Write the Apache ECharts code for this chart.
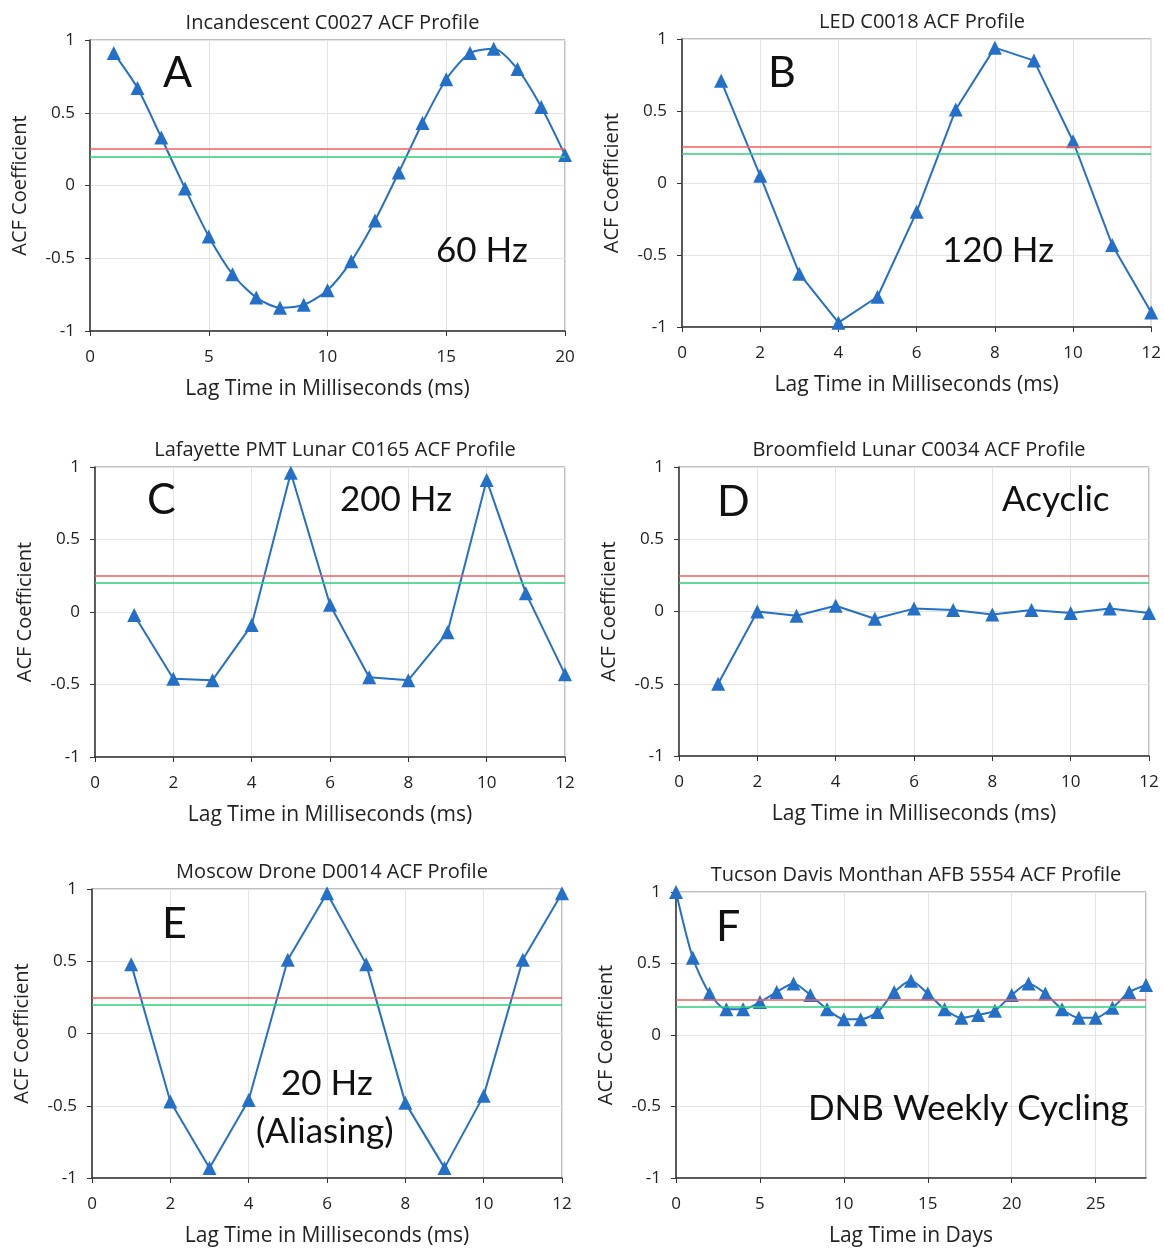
<!DOCTYPE html>
<html>
<head>
<meta charset="utf-8">
<script src="https://cdn.jsdelivr.net/npm/echarts@6/dist/echarts.min.js"></script>
<style>
  html, body { margin: 0; padding: 0; background: #fff; }
  #main { width: 1164px; height: 1248px; }
</style>
</head>
<body>
<div id="main"></div>
<script>
var myChart = echarts.init(document.getElementById('main'));

// data
var lagA = [1,2,3,4,5,6,7,8,9,10,11,12,13,14,15,16,17,18,19,20];
var acfA = [0.91,0.67,0.33,-0.02,-0.35,-0.61,-0.77,-0.84,-0.82,-0.72,-0.52,-0.24,0.09,0.43,0.73,0.91,0.94,0.80,0.54,0.21];
var lag12 = [1,2,3,4,5,6,7,8,9,10,11,12];
var acfB = [0.71,0.05,-0.63,-0.97,-0.79,-0.20,0.51,0.94,0.85,0.29,-0.43,-0.90];
var acfC = [-0.02,-0.46,-0.47,-0.09,0.96,0.05,-0.45,-0.47,-0.14,0.91,0.13,-0.43];
var acfD = [-0.50,0.00,-0.03,0.04,-0.05,0.02,0.01,-0.02,0.01,-0.01,0.02,-0.01];
var acfE = [0.48,-0.47,-0.93,-0.46,0.51,0.97,0.48,-0.48,-0.93,-0.43,0.51,0.97];
var lagF = [0,1,2,3,4,5,6,7,8,9,10,11,12,13,14,15,16,17,18,19,20,21,22,23,24,25,26,27,28];
var acfF = [1.00,0.54,0.29,0.18,0.18,0.23,0.30,0.36,0.28,0.18,0.11,0.11,0.16,0.30,0.38,0.29,0.18,0.12,0.14,0.17,0.28,0.36,0.29,0.18,0.12,0.12,0.19,0.30,0.35];

var redLevel = 0.25;
var greenLevel = 0.2;

var panels = [
  { title: 'Incandescent C0027 ACF Profile', x: lagA, y: acfA, max: 20, step: 5, smooth: true,
    xName: 'Lag Time in Milliseconds (ms)', box: [90, 40, 475, 291] },
  { title: 'LED C0018 ACF Profile', x: lag12, y: acfB, max: 12, step: 2, smooth: false,
    xName: 'Lag Time in Milliseconds (ms)', box: [682, 39, 470, 288] },
  { title: 'Lafayette PMT Lunar C0165 ACF Profile', x: lag12, y: acfC, max: 12, step: 2, smooth: false,
    xName: 'Lag Time in Milliseconds (ms)', box: [95, 467, 470, 290] },
  { title: 'Broomfield Lunar C0034 ACF Profile', x: lag12, y: acfD, max: 12, step: 2, smooth: false,
    xName: 'Lag Time in Milliseconds (ms)', box: [679, 467, 470, 289] },
  { title: 'Moscow Drone D0014 ACF Profile', x: lag12, y: acfE, max: 12, step: 2, smooth: false,
    xName: 'Lag Time in Milliseconds (ms)', box: [92, 889, 470, 290] },
  { title: 'Tucson Davis Monthan AFB 5554 ACF Profile', x: lagF, y: acfF, max: 28, step: 5, smooth: true,
    xName: 'Lag Time in Days', box: [676, 892, 470, 288] }
];

var font = '"Open Sans", Lato, sans-serif';
var bigFont = 'Lato, "Open Sans", sans-serif';
var lineBlue = '#2470C8';

var grids = [], xAxes = [], yAxes = [], series = [], titles = [];

panels.forEach(function (p, i) {
  var b = p.box;
  grids.push({ left: b[0], top: b[1], width: b[2], height: b[3], show: true,
    borderColor: '#7f7f7f', borderWidth: 1, backgroundColor: 'transparent' });
  titles.push({ text: p.title, left: b[0] + b[2] / 2, top: b[1] - 32, textAlign: 'center',
    textStyle: { fontFamily: font, fontSize: 20, fontWeight: 'normal', color: '#222' } });
  xAxes.push({
    gridIndex: i, type: 'value', min: 0, max: p.max, interval: p.step,
    name: p.xName, nameLocation: 'middle', nameGap: 48,
    nameTextStyle: { fontFamily: font, fontSize: 21, color: '#222' },
    axisLine: { onZero: false, lineStyle: { color: '#333', width: 1.5 } },
    axisTick: { show: true, length: 5, lineStyle: { color: '#333' } },
    axisLabel: { fontFamily: font, fontSize: 17, color: '#222', margin: 18, showMaxLabel: p.max % p.step === 0 },
    splitLine: { show: true, lineStyle: { color: '#e4e4e4' } }
  });
  yAxes.push({
    gridIndex: i, type: 'value', min: -1, max: 1, interval: 0.5,
    name: 'ACF Coefficient', nameLocation: 'middle', nameGap: 60,
    nameTextStyle: { fontFamily: font, fontSize: 20, color: '#222' },
    axisLine: { show: true, lineStyle: { color: '#333', width: 1.5 } },
    axisTick: { show: true, length: 5, lineStyle: { color: '#333' } },
    axisLabel: { fontFamily: font, fontSize: 17, color: '#222', margin: 15 },
    splitLine: { show: true, lineStyle: { color: '#e4e4e4' } }
  });
  series.push({
    type: 'line', xAxisIndex: i, yAxisIndex: i, smooth: p.smooth ? 0.25 : false,
    data: p.x.map(function (v, k) { return [v, p.y[k]]; }),
    symbol: 'triangle', symbolSize: 14, showSymbol: true,
    lineStyle: { color: lineBlue, width: 2 },
    itemStyle: { color: lineBlue },
    markLine: {
      silent: true, symbol: 'none', label: { show: false },
      data: [
        { yAxis: redLevel, lineStyle: { color: '#f0605c', width: 1.5, type: 'solid' } },
        { yAxis: greenLevel, lineStyle: { color: '#2ecf7c', width: 1.5, type: 'solid' } }
      ]
    },
    z: 3
  });
});

function bigText(t, x, y, size) {
  return { type: 'text', left: x, top: y,
    style: { text: t, fontFamily: bigFont, fontSize: size, fill: '#111' }, z: 10 };
}

var option = {
  backgroundColor: '#fff',
  animation: false,
  title: titles,
  grid: grids,
  xAxis: xAxes,
  yAxis: yAxes,
  series: series,
  graphic: [
    bigText('A', 163, 52, 43),
    bigText('B', 768, 52, 43),
    bigText('C', 147, 479, 43),
    bigText('D', 717, 481, 43),
    bigText('E', 162, 903, 43),
    bigText('F', 716, 906, 43),
    bigText('60 Hz', 436, 233, 35),
    bigText('120 Hz', 942, 233, 35),
    bigText('200 Hz', 340, 482, 35),
    bigText('Acyclic', 1002, 482, 35),
    bigText('20 Hz', 281, 1066, 35),
    bigText('(Aliasing)', 256, 1114, 35),
    bigText('DNB Weekly Cycling', 808, 1091, 35)
  ]
};

myChart.setOption(option);
</script>
</body>
</html>
